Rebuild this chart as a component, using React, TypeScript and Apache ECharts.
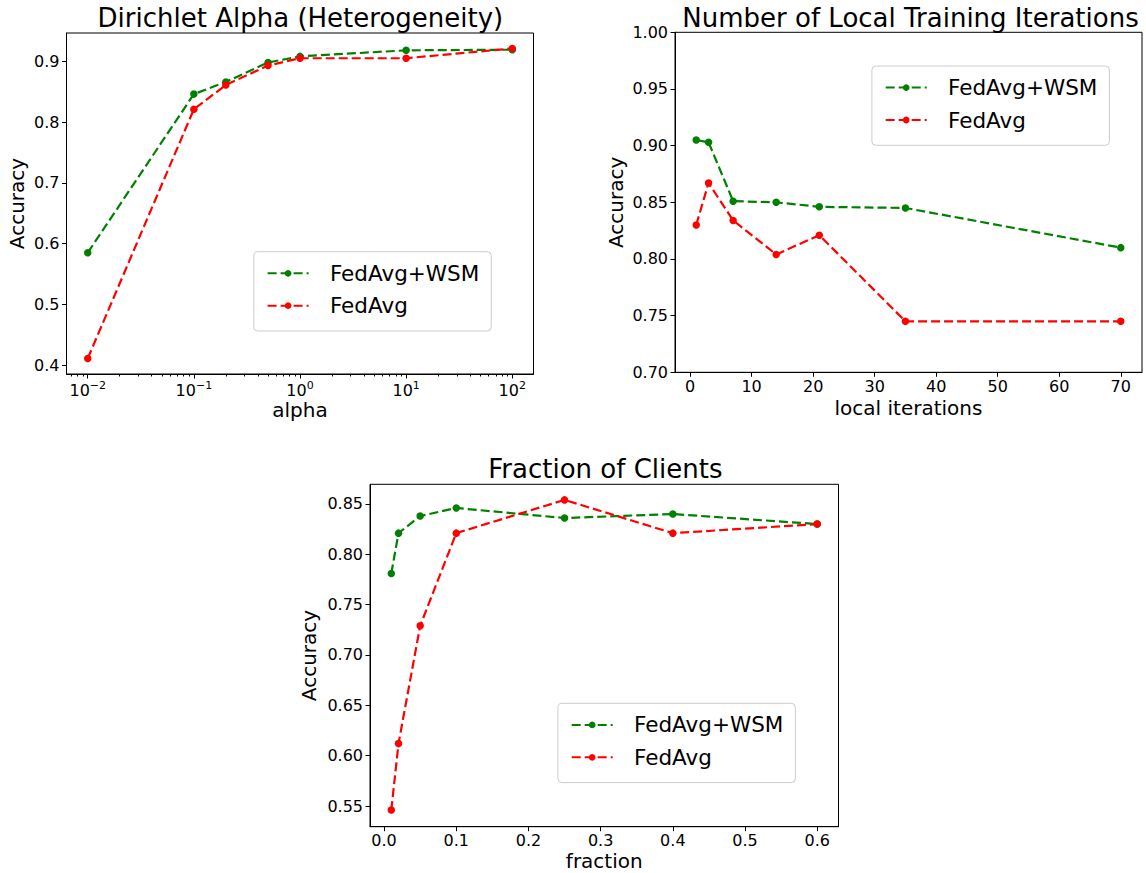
import React, { useEffect, useRef } from 'react';
import * as echarts from 'echarts';

// ---- Data ----
const alphaValues = [0.01, 0.1, 0.2, 0.5, 1, 10, 100];
const alphaWsm = [0.585, 0.846, 0.866, 0.898, 0.908, 0.918, 0.919];
const alphaFedAvg = [0.411, 0.821, 0.861, 0.893, 0.905, 0.905, 0.921];

const iterValues = [1, 3, 7, 14, 21, 35, 70];
const iterWsm = [0.905, 0.903, 0.851, 0.85, 0.846, 0.845, 0.81];
const iterFedAvg = [0.83, 0.867, 0.834, 0.804, 0.821, 0.745, 0.745];

const fracValues = [0.01, 0.02, 0.05, 0.1, 0.25, 0.4, 0.6];
const fracWsm = [0.781, 0.821, 0.838, 0.846, 0.836, 0.84, 0.83];
const fracFedAvg = [0.546, 0.612, 0.729, 0.821, 0.854, 0.821, 0.83];

// ---- Ticks ----
const alphaTicks = [0.01, 0.1, 1, 10, 100];
const alphaTickExponents = ['−2', '−1', '0', '1', '2'];
const alphaMinorTicks = [
  0.007, 0.008, 0.009,
  0.02, 0.03, 0.04, 0.05, 0.06, 0.07, 0.08, 0.09,
  0.2, 0.3, 0.4, 0.5, 0.6, 0.7, 0.8, 0.9,
  2, 3, 4, 5, 6, 7, 8, 9,
  20, 30, 40, 50, 60, 70, 80, 90,
];
const accTicks1 = [0.4, 0.5, 0.6, 0.7, 0.8, 0.9];
const iterTicks = [0, 10, 20, 30, 40, 50, 60, 70];
const accTicks2 = [0.7, 0.75, 0.8, 0.85, 0.9, 0.95, 1.0];
const fracTicks = [0.0, 0.1, 0.2, 0.3, 0.4, 0.5, 0.6];
const accTicks3 = [0.55, 0.6, 0.65, 0.7, 0.75, 0.8, 0.85];

const titles = ['Dirichlet Alpha (Heterogeneity)', 'Number of Local Training Iterations', 'Fraction of Clients'];
const seriesNames = ['FedAvg+WSM', 'FedAvg'];
const colors = ['#008000', '#ff0000'];

const FONT = 'DejaVu Sans';

function App() {
  const ref = useRef<HTMLDivElement>(null);

  useEffect(() => {
    if (!ref.current) return;
    const chart = echarts.init(ref.current, undefined, { renderer: 'svg' });

    const axisLine = { show: true, onZero: false, lineStyle: { color: '#000', width: 1 } };
    const axisTick = (vals: number[], len = 4.5) => ({
      show: true, inside: false, length: len, customValues: vals,
      lineStyle: { color: '#000', width: 1 },
    });
    const labelStyle = { color: '#000', fontSize: 16, fontFamily: FONT };
    const nameStyle = { color: '#000', fontSize: 20, fontFamily: FONT };

    const grids = [
      { left: 66.5, top: 33, width: 467, height: 341 },
      { left: 675, top: 32.3, width: 467, height: 340 },
      { left: 370, top: 484.3, width: 468.5, height: 342.4 },
    ].map((g) => ({ ...g, show: true, borderColor: '#000', borderWidth: 1, backgroundColor: '#fff' }));

    const xAxes: any[] = [
      {
        type: 'log', logBase: 10, gridIndex: 0, position: 'bottom',
        min: Math.pow(10, -2.2), max: Math.pow(10, 2.2),
        axisLine, axisTick: axisTick(alphaTicks),
        axisLabel: {
          ...labelStyle, margin: 6, customValues: alphaTicks,
          formatter: (v: number) => '{b|10}{s|' + alphaTickExponents[Math.round(Math.log10(v)) + 2] + '}',
          rich: {
            b: { fontSize: 16, fontFamily: FONT, color: '#000', lineHeight: 20 },
            s: { fontSize: 11, fontFamily: FONT, color: '#000', lineHeight: 11, verticalAlign: 'top' },
          },
        },
        splitLine: { show: false },
        name: 'alpha', nameLocation: 'middle', nameGap: 26, nameTextStyle: nameStyle,
      },
      {
        type: 'log', logBase: 10, gridIndex: 0, position: 'bottom', offset: 0,
        min: Math.pow(10, -2.2), max: Math.pow(10, 2.2),
        axisLine: { show: false, onZero: false }, axisTick: axisTick(alphaMinorTicks, 2.5),
        axisLabel: { show: false, customValues: alphaMinorTicks },
        splitLine: { show: false },
      },
      {
        type: 'value', gridIndex: 1, position: 'bottom',
        min: -2.45, max: 73.45,
        axisLine, axisTick: axisTick(iterTicks),
        axisLabel: { ...labelStyle, margin: 6, customValues: iterTicks, formatter: (v: number) => String(Math.round(v)) },
        splitLine: { show: false },
        name: 'local iterations', nameLocation: 'middle', nameGap: 26, nameTextStyle: nameStyle,
      },
      {
        type: 'value', gridIndex: 2, position: 'bottom',
        min: -0.0195, max: 0.6295,
        axisLine, axisTick: axisTick(fracTicks),
        axisLabel: { ...labelStyle, margin: 6, customValues: fracTicks, formatter: (v: number) => v.toFixed(1) },
        splitLine: { show: false },
        name: 'fraction', nameLocation: 'middle', nameGap: 24, nameTextStyle: nameStyle,
      },
    ];

    const yAxes: any[] = [
      {
        type: 'value', gridIndex: 0, min: 0.3855, max: 0.9465,
        axisLine, axisTick: axisTick(accTicks1),
        axisLabel: { ...labelStyle, margin: 7, customValues: accTicks1, formatter: (v: number) => v.toFixed(1) },
        splitLine: { show: false },
        name: 'Accuracy', nameLocation: 'middle', nameRotate: 90, nameGap: 40, nameTextStyle: nameStyle,
      },
      {
        type: 'value', gridIndex: 1, min: 0.7, max: 1.0,
        axisLine, axisTick: axisTick(accTicks2),
        axisLabel: { ...labelStyle, margin: 7, customValues: accTicks2, formatter: (v: number) => v.toFixed(2) },
        splitLine: { show: false },
        name: 'Accuracy', nameLocation: 'middle', nameRotate: 90, nameGap: 49.5, nameTextStyle: nameStyle,
      },
      {
        type: 'value', gridIndex: 2, min: 0.5295, max: 0.8695,
        axisLine, axisTick: axisTick(accTicks3),
        axisLabel: { ...labelStyle, margin: 7, customValues: accTicks3, formatter: (v: number) => v.toFixed(2) },
        splitLine: { show: false },
        name: 'Accuracy', nameLocation: 'middle', nameRotate: 90, nameGap: 51, nameTextStyle: nameStyle,
      },
    ];

    const mkSeries = (name: string, color: string, xs: number[], ys: number[], xi: number, yi: number) => ({
      type: 'line', name, xAxisIndex: xi, yAxisIndex: yi,
      data: xs.map((x, i) => [x, ys[i]]),
      symbol: 'circle', symbolSize: 7.5, showSymbol: true,
      lineStyle: { color, width: 2.2, type: [9, 4] },
      itemStyle: { color },
      emphasis: { disabled: true },
    });

    const series = [
      mkSeries(seriesNames[0], colors[0], alphaValues, alphaWsm, 0, 0),
      mkSeries(seriesNames[1], colors[1], alphaValues, alphaFedAvg, 0, 0),
      mkSeries(seriesNames[0], colors[0], iterValues, iterWsm, 2, 1),
      mkSeries(seriesNames[1], colors[1], iterValues, iterFedAvg, 2, 1),
      mkSeries(seriesNames[0], colors[0], fracValues, fracWsm, 3, 2),
      mkSeries(seriesNames[1], colors[1], fracValues, fracFedAvg, 3, 2),
    ];

    const mkLegend = (left: number, top: number) => ({
      show: true, orient: 'vertical', left, top,
      data: seriesNames,
      itemWidth: 41, itemHeight: 8.4, itemGap: 10.4,
      padding: [10.6, 12, 14.3, 12.8],
      borderColor: '#cccccc', borderWidth: 1, borderRadius: 4, backgroundColor: '#fff',
      textStyle: { color: '#000', fontSize: 21.5, fontFamily: FONT, lineHeight: 22, padding: [0, 0, 0, 16.3] },
      selectedMode: false,
    });

    const mkTitle = (text: string, x: number, y: number) => ({
      type: 'text', x, y,
      style: { text, fill: '#000', fontSize: 26, fontFamily: FONT, textAlign: 'center', textVerticalAlign: 'middle' },
    });

    chart.setOption({
      animation: false,
      backgroundColor: '#fff',
      textStyle: { fontFamily: FONT },
      grid: grids,
      xAxis: xAxes,
      yAxis: yAxes,
      series,
      legend: [mkLegend(253.8, 251.7), mkLegend(871.9, 66), mkLegend(557.9, 703.3)],
      graphic: [
        mkTitle(titles[0], 300.4, 17.7),
        mkTitle(titles[1], 910.5, 17.7),
        mkTitle(titles[2], 605.4, 469.3),
      ],
    });

    return () => chart.dispose();
  }, []);

  return (
    <div
      ref={ref}
      style={{ position: 'absolute', left: 0, top: 0, width: 1146, height: 873, background: '#fff' }}
    />
  );
}

export default App;
